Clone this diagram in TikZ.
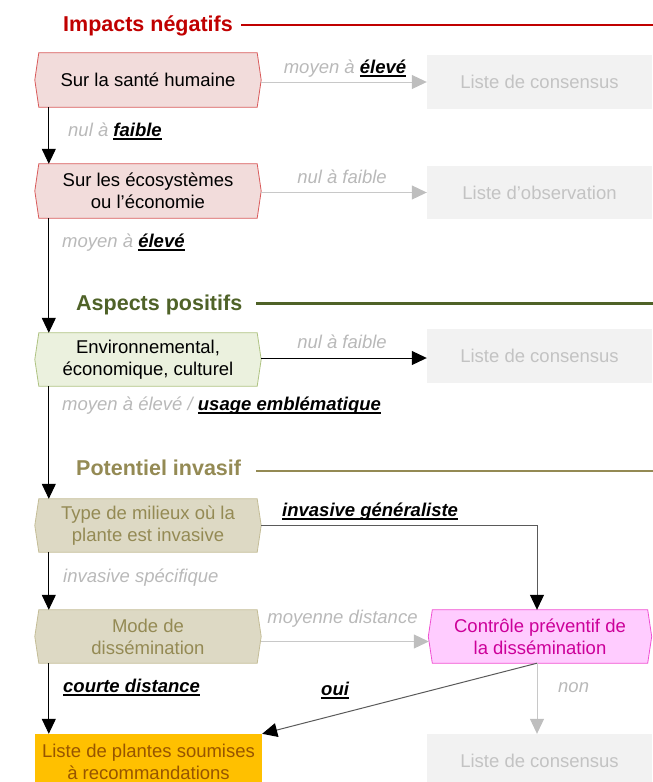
\documentclass[tikz,border=0pt]{standalone}
\usepackage{fontspec}
\setmainfont{Liberation Sans}
\usetikzlibrary{arrows.meta,backgrounds,calc}
\definecolor{hdrred}{RGB}{192,0,0}
\definecolor{hdrgreen}{RGB}{79,98,40}
\definecolor{hdrkhaki}{RGB}{148,138,84}
\definecolor{pinkfill}{RGB}{242,220,219}
\definecolor{pinkdraw}{RGB}{217,90,90}
\definecolor{greenfill}{RGB}{235,241,222}
\definecolor{greendraw}{RGB}{175,195,130}
\definecolor{khakifill}{RGB}{221,217,196}
\definecolor{khakidraw}{RGB}{196,189,151}
\definecolor{magfill}{RGB}{255,204,255}
\definecolor{magdraw}{RGB}{240,80,210}
\definecolor{magtext}{RGB}{204,0,153}
\definecolor{greybox}{RGB}{242,242,242}
\definecolor{greytext}{RGB}{195,195,195}
\definecolor{labelgrey}{RGB}{185,185,185}
\definecolor{linegrey}{RGB}{200,200,200}
\definecolor{darkline}{RGB}{90,90,90}
\definecolor{orangefill}{RGB}{255,192,0}
\definecolor{orangetext}{RGB}{151,85,0}
\newcommand\ulb[1]{\setbox0\hbox{\color{black}\bfseries #1}\rlap{\color{black}\rule[-4pt]{\wd0}{1.6pt}}\box0}
\newcommand\hexframe[3]{%
  \begin{pgfonlayer}{background}
  \filldraw[fill=#2, draw=#3, line width=0.8pt] ([xshift=-4pt]#1.west) -- (#1.north west) -- (#1.north east) -- ([xshift=4pt]#1.east) -- (#1.south east) -- (#1.south west) -- cycle;
  \end{pgfonlayer}}
\tikzset{
  boxtext/.style={font=\fontsize{18.5}{22}\selectfont, align=center, inner sep=0pt},
  hexbox/.style={boxtext, minimum width=218pt, minimum height=54pt},
  listbox/.style={boxtext, fill=greybox, text=greytext, minimum width=225pt, minimum height=54pt},
  lbl/.style={font=\fontsize{18.5}{22}\selectfont\itshape, text=labelgrey, inner sep=0pt},
  hdr/.style={font=\fontsize{21.5}{25}\selectfont\bfseries, inner sep=0pt, anchor=base west},
  flow/.style={line width=1pt, draw=black, -{Triangle[width=14pt,length=15pt]}},
  flowgrey/.style={line width=1pt, draw=linegrey, -{Triangle[width=14pt,length=15pt,color=headgrey]}},
  flowdark/.style={line width=1pt, draw=darkline, -{Triangle[width=14pt,length=15pt,color=black]}},
}
\definecolor{headgrey}{RGB}{190,190,190}
\begin{document}
\begin{tikzpicture}[x=1pt,y=-1pt]
\useasboundingbox (0,0) rectangle (653,782);
\coordinate (rightedge) at (653,0);
% headers
\node[hdr, text=hdrred] (h1) at (63,31.5) {Impacts négatifs};
\node[hdr, text=hdrgreen] (h2) at (76,310) {Aspects positifs};
\node[hdr, text=hdrkhaki] (h3) at (76,475.5) {Potentiel invasif};
\path (h1.base east) ++(8,-7) coordinate (h1a);
\path (h2.base east) ++(14,-6.5) coordinate (h2a);
\path (h3.base east) ++(15,-4.5) coordinate (h3a);
\draw[hdrred, line width=2pt] (h1a) -- (h1a -| rightedge);
\draw[hdrgreen, line width=2.6pt] (h2a) -- (h2a -| rightedge);
\draw[hdrkhaki, line width=2.6pt] (h3a) -- (h3a -| rightedge);
% left column
\node[hexbox] (b1) at (148,80) {Sur la santé humaine};
\hexframe{b1}{pinkfill}{pinkdraw}
\node[hexbox] (b2) at (148,191) {Sur les écosystèmes\\ou l’économie};
\hexframe{b2}{pinkfill}{pinkdraw}
\node[hexbox, minimum height=53pt] (g) at (148,359.5) {Environnemental,\\économique, culturel};
\hexframe{g}{greenfill}{greendraw}
\node[hexbox, minimum height=53pt, text=hdrkhaki] (t) at (148,525.5) {Type de milieux où la\\plante est invasive};
\hexframe{t}{khakifill}{khakidraw}
\node[hexbox, minimum height=53pt, text=hdrkhaki] (m) at (148,636.5) {Mode de\\dissémination};
\hexframe{m}{khakifill}{khakidraw}
\node[hexbox, minimum width=215pt, minimum height=53pt, text=magtext] (p) at (540,636.5) {Contrôle préventif de\\la dissémination};
\hexframe{p}{magfill}{magdraw}
\node[boxtext, fill=orangefill, text=orangetext, minimum width=227pt, minimum height=56pt] (o) at (148.5,762) {Liste de plantes soumises\\à recommandations};
% right column
\node[listbox] (r1) at (539.5,82) {Liste de consensus};
\node[listbox, minimum height=53pt] (r2) at (539.5,192.5) {Liste d'observation};
\node[listbox] (r3) at (539.5,356) {Liste de consensus};
\node[listbox] (r4) at (539.5,761) {Liste de consensus};
% vertical connectors
\draw[flow] ([xshift=10pt]b1.south west) -- ([xshift=10pt]b2.north west);
\draw[flow] ([xshift=10pt]b2.south west) -- ([xshift=10pt]g.north west);
\draw[flow] ([xshift=10pt]g.south west) -- ([xshift=10pt]t.north west);
\draw[flow] ([xshift=10pt]t.south west) -- ([xshift=10pt]m.north west);
\draw[flow] ([xshift=10pt]m.south west) -- ([xshift=14pt]o.north west);
% horizontal connectors
\draw[flowgrey] ($(r1.west -| b1.east)+(4,0)$) -- (r1.west);
\draw[flowgrey] ($(r2.west -| b2.east)+(4,0)$) -- (r2.west);
\path (g.east) ++(4,-1.5) coordinate (gout);
\draw[flow] (gout) -- (gout -| r3.west);
\coordinate (ptop) at ([xshift=-3pt]p.north);
\coordinate (pbot) at ([xshift=-3pt]p.south);
\draw[flowdark] ($(t.east)+(4,0)$) -| (ptop);
\path (m.east) ++(4,5) coordinate (mout);
\path (mout -| p.west) ++(-3.5,0) coordinate (pin);
\draw[flowgrey] (mout) -- (pin);
\draw[flowdark] (pbot) -- (o.north east);
\draw[flowgrey] (pbot) -- (pbot |- r4.north);
% labels
\node[lbl, anchor=base west] (l1) at (68,136) {nul à \ulb{faible}};
\node[lbl, anchor=base] (l2) at (345,73) {moyen à \ulb{élevé}};
\node[lbl, anchor=base] (l3) at (342,183) {nul à faible};
\node[lbl, anchor=base west] (l4) at (62,247) {moyen à \ulb{élevé}};
\node[lbl, anchor=base] (l5) at (342,348) {nul à faible};
\node[lbl, anchor=base west] (l6) at (62,410) {moyen à élevé / \ulb{usage emblématique}};
\node[lbl, anchor=base west] (l7) at (282,516) {\ulb{invasive généraliste}};
\node[lbl, anchor=base west] (l8) at (63,582) {invasive spécifique};
\node[lbl, anchor=base] (l9) at (342.5,623) {moyenne distance};
\node[lbl, anchor=base west] (l10) at (63,692) {\ulb{courte distance}};
\node[lbl, anchor=base west] (l11) at (321,695) {\ulb{oui}};
\node[lbl, anchor=base west] (l12) at (558,692) {non};
\end{tikzpicture}
\end{document}
